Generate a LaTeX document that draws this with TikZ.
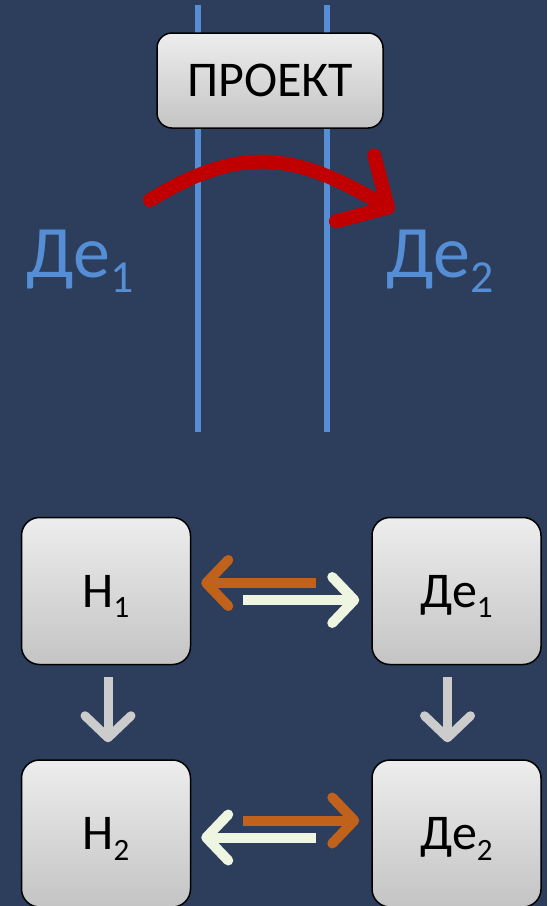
\documentclass[tikz,border=0pt]{standalone}
\usepackage{fontspec}
\setmainfont{Carlito}
\usetikzlibrary{arrows.meta,calc}
\definecolor{bg}{HTML}{2C3E5C}
\definecolor{lineblue}{HTML}{558ED5}
\definecolor{boxtop}{HTML}{EDEDED}
\definecolor{boxbot}{HTML}{C4C4C4}
\definecolor{arrred}{HTML}{C00000}
\definecolor{arrorange}{HTML}{C0621B}
\definecolor{arrcream}{HTML}{EEF5E0}
\definecolor{arrgray}{HTML}{CCCCCC}
\newcommand{\ix}[1]{\raisebox{-0.21em}{\scalebox{0.62}{#1}}}

\begin{document}
\begin{tikzpicture}[x=1pt,y=-1pt,
    card/.style={draw=black,line width=1.5pt,rounded corners=18pt,top color=boxtop,bottom color=boxbot,
        minimum width=169pt,minimum height=147pt,inner sep=0pt,text height=32pt,text depth=0pt,
        font=\fontsize{50}{60}\selectfont},
    lbl/.style={inner sep=0pt,text=lineblue,font=\fontsize{74}{88}\selectfont},
    wall/.style={draw=lineblue,line width=6pt},
    chev/.style={-{Straight Barb[round,length=22pt,width=46pt]},line width=10pt},
    orangearr/.style={chev,draw=arrorange},
    creamarr/.style={chev,draw=arrcream},
    grayarr/.style={chev,line width=9pt,draw=arrgray}]
    \useasboundingbox (0,0) rectangle (547,906);
    \clip (0,0) rectangle (547,906);
    \fill[bg] (0,0) rectangle (547,906);
    % walls
    \draw[wall] (198,5) -- (198,432);
    \draw[wall] (327,5) -- (327,432);
    % project
    \node[card,minimum width=226pt,minimum height=95pt,rounded corners=15pt] (P) at (270,80.5) {ПРОЕКТ};
    \coordinate (s) at (150,200);
    \coordinate (t) at (394,211);
    \draw[arrred,line width=14pt,line cap=round,-{Straight Barb[round,length=38pt,width=76pt]}]
        (s) .. controls (244,143) and (296,154) .. (t);
    \node[lbl,anchor=base west] (L1) at (26,277) {Де\ix{1}};
    \node[lbl,anchor=base west] (L2) at (386,277) {Де\ix{2}};
    % boxes
    \node[card] (N1) at (106,591) {Н\ix{1}};
    \node[card] (D1) at (456.5,591) {Де\ix{1}};
    \node[card] (N2) at (106,833.5) {Н\ix{2}};
    \node[card] (D2) at (456.5,833.5) {Де\ix{2}};
    % links
    \draw[orangearr] ($(D1.west)+(-55,-8)$) -- ($(N1.east)+(10,-8)$);
    \draw[creamarr] ($(N1.east)+(52,9)$) -- ($(D1.west)+(-12,9)$);
    \draw[orangearr] ($(N2.east)+(52,-13)$) -- ($(D2.west)+(-12,-13)$);
    \draw[creamarr] ($(D2.west)+(-55,4)$) -- ($(N2.east)+(10,4)$);
    \draw[grayarr] ($(N1.south)+(2,12)$) -- ($(N2.north)+(2,-17)$);
    \draw[grayarr] ($(D1.south)+(-9,12)$) -- ($(D2.north)+(-9,-17)$);
\end{tikzpicture}
\end{document}
